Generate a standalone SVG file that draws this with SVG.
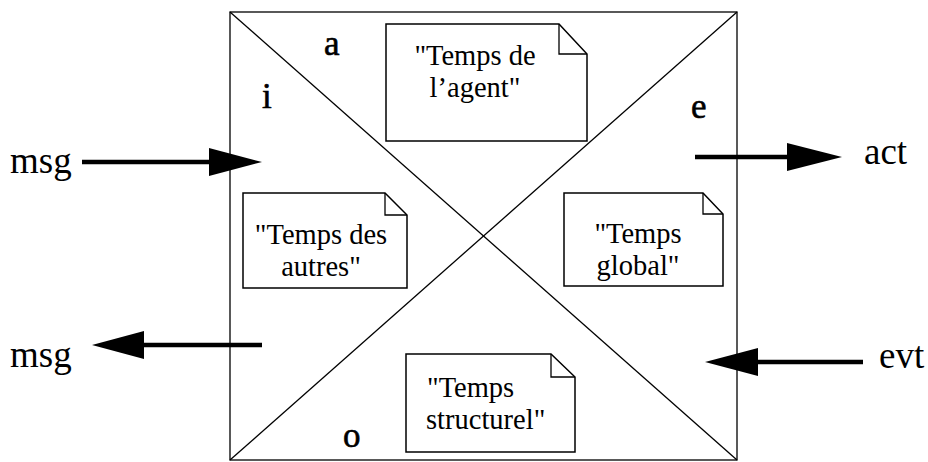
<svg xmlns="http://www.w3.org/2000/svg" width="928" height="462" viewBox="0 0 928 462">
<style>
.ln{stroke:#000;stroke-width:1.3;fill:none}
.note{stroke:#000;stroke-width:1.5;fill:#fff}
.fold{stroke:#000;stroke-width:1.3;fill:none}
.t{font-family:"Liberation Serif","Times New Roman",serif;font-size:28.5px;fill:#000}
.lab{font-family:"Liberation Serif","Times New Roman",serif;font-size:35px;fill:#000;stroke:#000;stroke-width:0.6}
.io{font-family:"Liberation Serif","Times New Roman",serif;font-size:37px;fill:#000}
.arr{stroke:#000;stroke-width:4.5;fill:none}
.head{fill:#000}
</style>
<g id="frame">
<rect x="230" y="12" width="507" height="448" class="ln"/>
<line x1="230" y1="12" x2="737" y2="460" class="ln"/>
<line x1="737" y1="12" x2="230" y2="460" class="ln"/>
<text class="lab" x="324" y="55">a</text>
<text class="lab" x="262" y="108">i</text>
<text class="lab" x="691" y="118">e</text>
<text class="lab" x="343" y="447">o</text>
</g>
<g id="note-agent">
<path class="note" d="M386,24 H559 L587,54 V141 H386 Z"/>
<path class="fold" d="M559,24 V54 H587"/>
<text class="t" text-anchor="middle" x="475" y="65">"Temps de</text>
<text class="t" text-anchor="middle" x="475" y="97">l’agent"</text>
</g>
<g id="note-autres">
<path class="note" d="M243,193 H385 L407,215 V288 H243 Z"/>
<path class="fold" d="M385,193 V215 H407"/>
<text class="t" text-anchor="middle" x="321" y="244">"Temps des</text>
<text class="t" text-anchor="middle" x="321" y="276">autres"</text>
</g>
<g id="note-global">
<path class="note" d="M564,193 H703 L723,214 V286 H564 Z"/>
<path class="fold" d="M703,193 V214 H723"/>
<text class="t" text-anchor="middle" x="638" y="243">"Temps</text>
<text class="t" text-anchor="middle" x="638" y="275">global"</text>
</g>
<g id="note-structurel">
<path class="note" d="M406,354 H551 L575,377 V452 H406 Z"/>
<path class="fold" d="M551,354 V377 H575"/>
<text class="t" x="427" y="397">"Temps</text>
<text class="t" x="426" y="429">structurel"</text>
</g>
<g id="connectors">
<line class="arr" x1="82" y1="162" x2="212" y2="162"/>
<path class="head" d="M209,148 L262,162 L209,176 Z"/>
<line class="arr" x1="695" y1="157" x2="790" y2="157"/>
<path class="head" d="M787,143 L842,157 L787,171 Z"/>
<line class="arr" x1="262" y1="345" x2="141" y2="345"/>
<path class="head" d="M144,331 L92,345 L144,359 Z"/>
<line class="arr" x1="863" y1="362" x2="756" y2="362"/>
<path class="head" d="M758,348 L705,362 L758,376 Z"/>
</g>
<g id="io-labels">
<text class="io" x="10" y="173">msg</text>
<text class="io" x="864" y="164">act</text>
<text class="io" x="10" y="367">msg</text>
<text class="io" x="879" y="368">evt</text>
</g>
</svg>
